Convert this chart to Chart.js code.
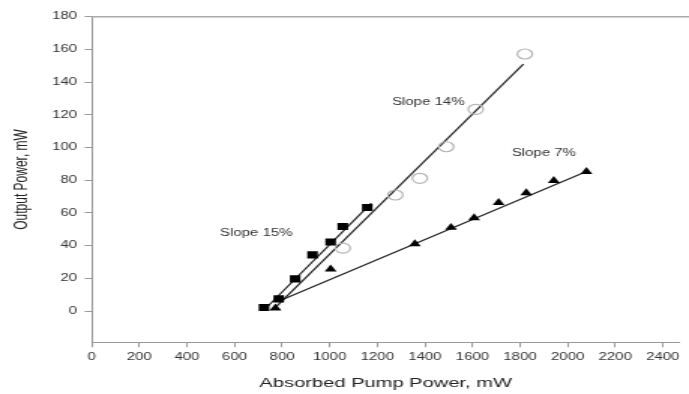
<!DOCTYPE html>
<html><head><meta charset="utf-8">
<script src="https://cdn.jsdelivr.net/npm/chart.js@4/dist/chart.umd.min.js"></script>
<style>
html,body{margin:0;padding:0;background:#fff;overflow:hidden;width:689px;height:394px;}
#wrap{position:absolute;left:0;top:0;width:459px;height:394px;transform:scaleX(1.50109);transform-origin:0 0;}
</style></head><body>
<div id="wrap"><canvas id="c" width="459" height="394"></canvas></div>
<script>
// Axis ticks
const xTicks = [0,200,400,600,800,1000,1200,1400,1600,1800,2000,2200,2400];
const yTicks = [0,20,40,60,80,100,120,140,160,180];

// Series: filled squares (Slope 15%)
const squaresX = [724, 786, 855, 928, 1004, 1055, 1158];
const squaresY = [2.2, 7.5, 19.7, 34.4, 42.3, 51.7, 63.3];
// Series: open circles (Slope 14%)
const circlesX = [1055, 1276, 1379, 1490, 1614, 1820];
const circlesY = [38.5, 71, 81.2, 100.5, 123.4, 157.2];
// Series: filled triangles (Slope 7%)
const trianglesX = [772, 1004, 1358, 1510, 1607, 1710, 1826, 1942, 2079];
const trianglesY = [1.8, 25.7, 41.1, 51.1, 57, 66.3, 72.3, 79.8, 85.3];

// Linear fit lines (end points)
const fit15X = [740, 1175];  const fit15Y = [3, 66];
const fit14X = [770, 1814];  const fit14Y = [2, 151];
const fit7X  = [780, 2079];  const fit7Y  = [5.7, 85.3];

// Annotations
const noteText = ['Slope 15%', 'Slope 14%', 'Slope 7%'];
const noteX = [539, 1262, 1765];
const noteY = [47.6, 127.4, 96.5];

const FONT = "'Liberation Sans', Arial, sans-serif";
const pts = (xs, ys) => xs.map((x, i) => ({x, y: ys[i]}));

const topBorder = {
  id: 'topBorder',
  afterDraw(chart) {
    const {ctx, chartArea} = chart;
    ctx.save();
    ctx.strokeStyle = '#aaa';
    ctx.lineWidth = 1.5;
    ctx.beginPath();
    ctx.moveTo(chartArea.left, chartArea.top);
    ctx.lineTo(chart.width, chartArea.top);
    ctx.stroke();
    ctx.restore();
  }
};

const notes = {
  id: 'notes',
  afterDatasetsDraw(chart) {
    const {ctx, scales} = chart;
    ctx.save();
    ctx.font = '10px ' + FONT;
    ctx.fillStyle = '#333';
    ctx.textAlign = 'left';
    ctx.textBaseline = 'middle';
    noteText.forEach((t, i) => {
      ctx.fillText(t, scales.x.getPixelForValue(noteX[i]), scales.y.getPixelForValue(noteY[i]));
    });
    ctx.restore();
  }
};

const lineDs = (xs, ys) => ({
  type: 'line', data: pts(xs, ys), showLine: true, borderColor: '#222', borderWidth: 1.2,
  pointRadius: 0, fill: false, order: 2, tension: 0
});

new Chart(document.getElementById('c'), {
  type: 'scatter',
  data: {
    datasets: [
      lineDs(fit15X, fit15Y),
      lineDs(fit14X, fit14Y),
      lineDs(fit7X, fit7Y),
      { label: 'Slope 15%', data: pts(squaresX, squaresY), pointStyle: 'rect', pointRadius: 5,
        backgroundColor: '#000', borderColor: '#000', borderWidth: 0, order: 1 },
      { label: 'Slope 14%', data: pts(circlesX, circlesY), pointStyle: 'circle', pointRadius: 5,
        backgroundColor: 'rgba(255,255,255,0)', borderColor: '#b4b4b4', borderWidth: 1.2, order: 1 },
      { label: 'Slope 7%', data: pts(trianglesX, trianglesY), pointStyle: 'triangle', pointRadius: 4.6,
        backgroundColor: '#000', borderColor: '#000', borderWidth: 0, order: 1 }
    ]
  },
  options: {
    responsive: false,
    animation: false,
    events: [],
    layout: { padding: { top: 16.7, left: 0, right: 0, bottom: 0 } },
    plugins: { legend: { display: false }, tooltip: { enabled: false } },
    scales: {
      x: {
        type: 'linear', min: 0, max: 2471,
        afterBuildTicks: s => { s.ticks = xTicks.map(v => ({value: v})); },
        afterFit: s => { s.height = 51.8; },
        ticks: { font: { family: FONT, size: 10 }, color: '#333', padding: 4, maxRotation: 0, autoSkip: false,
                 callback: v => String(v) },
        grid: { display: true, drawOnChartArea: false, drawTicks: true, tickLength: 5, tickColor: '#999', color: '#999' },
        border: { display: true, color: '#999', width: 1 },
        title: { display: true, text: 'Absorbed Pump Power, mW', color: '#222',
                 font: { family: FONT, size: 13.4 }, padding: { top: 0, bottom: 3 } }
      },
      y: {
        type: 'linear', min: -19, max: 180,
        afterBuildTicks: s => { s.ticks = yTicks.map(v => ({value: v})); },
        afterFit: s => { s.width = 61.1; },
        ticks: { font: { family: FONT, size: 10 }, color: '#333', padding: 5, autoSkip: false,
                 callback: v => String(v) },
        grid: { display: true, drawOnChartArea: false, drawTicks: true, tickLength: 4.7, tickColor: '#999', color: '#999' },
        border: { display: true, color: '#999', width: 1 },
        title: { display: true, text: 'Output Power, mW', color: '#222',
                 font: { family: FONT, size: 12 }, padding: { top: 7.5, bottom: 0 } }
      }
    }
  },
  plugins: [topBorder, notes]
});
</script>
</body></html>
